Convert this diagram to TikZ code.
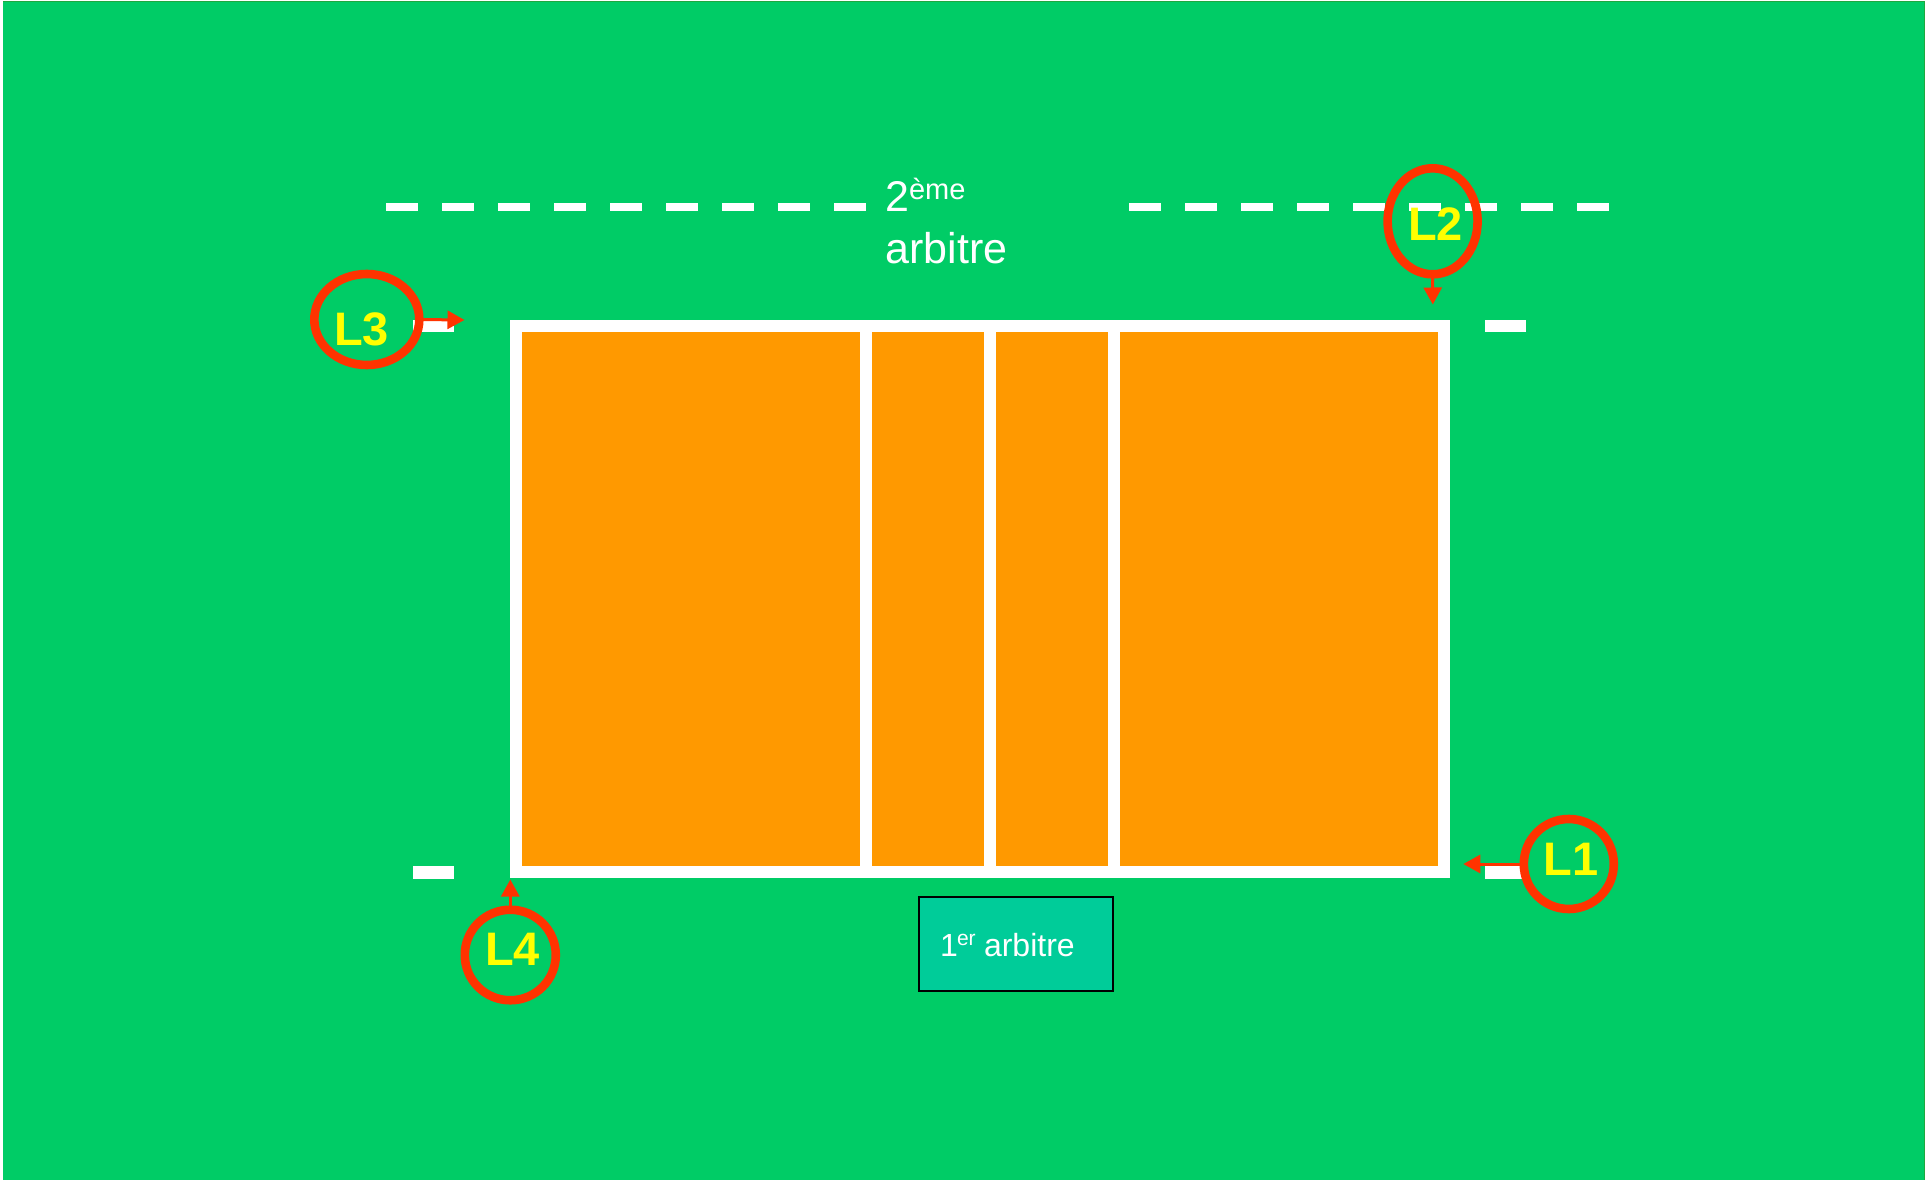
\documentclass[tikz,border=0pt]{standalone}
\usepackage{fontspec}
\setmainfont{Liberation Sans}
\usetikzlibrary{arrows.meta,shapes.geometric}
\definecolor{fieldgreen}{HTML}{00CC66}
\definecolor{edgegreen}{HTML}{1FA83F}
\definecolor{courtorange}{HTML}{FF9900}
\definecolor{refred}{HTML}{FF3300}
\definecolor{boxteal}{HTML}{00CC99}
\definecolor{labelyellow}{HTML}{FFFF00}
\tikzset{
  x=1pt,y=-1pt,
  linejudge/.style={ellipse,draw=refred,line width=8.6pt,inner sep=0pt,outer sep=0pt,minimum width=#1},
  judgearrow/.style={draw=refred,line width=3pt,-{Triangle[length=17pt,width=18pt,fill=refred]}},
  judgelabel/.style={anchor=base west,inner sep=0pt,outer sep=0pt,text=labelyellow,font=\fontsize{47}{47}\selectfont\bfseries},
  bigtext/.style={anchor=base west,inner sep=0pt,outer sep=0pt,text=white,font=\fontsize{43}{43}\selectfont},
  bigsup/.style={anchor=base west,inner sep=0pt,outer sep=0pt,text=white,font=\fontsize{29}{29}\selectfont},
  smalltext/.style={anchor=base west,inner sep=0pt,outer sep=0pt,text=white,font=\fontsize{32}{32}\selectfont},
  smallsup/.style={anchor=base west,inner sep=0pt,outer sep=0pt,text=white,font=\fontsize{21}{21}\selectfont},
  courtline/.style={fill=white},
  panel/.style={fill=courtorange}
}
\begin{document}
\begin{tikzpicture}
\useasboundingbox (0,0) rectangle (1925,1180);
\fill[white] (0,0) rectangle (1925,1180);
\fill[fieldgreen] (3,1) rectangle (1924,1180);
\fill[edgegreen] (3,1) rectangle (1925,2.2);
\fill[edgegreen] (1923.8,1) rectangle (1925,1180);
% dashed service lines
\foreach \i in {0,...,8}{
  \fill[courtline] ({385.8+56*\i},202.7) rectangle ({418.2+56*\i},211.3);
  \fill[courtline] ({1128.6+56*\i},202.7) rectangle ({1160.8+56*\i},211.3);
}
% corner marks
\fill[courtline] (413,320) rectangle (453.5,332);
\fill[courtline] (1485,320) rectangle (1526,332);
\fill[courtline] (413,866) rectangle (453.5,878.5);
\fill[courtline] (1485,866) rectangle (1526,878.5);
% court
\fill[courtline] (509.5,320) rectangle (1450,878);
\fill[panel] (521.5,332) rectangle (860,866);
\fill[panel] (872,332) rectangle (984,866);
\fill[panel] (996,332) rectangle (1108,866);
\fill[panel] (1120,332) rectangle (1438,866);
% referee box
\node[draw=black,fill=boxteal,line width=2pt,minimum width=194pt,minimum height=94pt,inner sep=0pt,anchor=north west] (ref1box) at (917.5,896) {};
% text
\node[bigtext] (two) at (885.5,211) {2};
\node[bigsup] (eme) at (909,199) {ème};
\node[bigtext] (arb2) at (885.5,263.5) {arbitre};
\node[smalltext] (one) at (940,956) {1};
\node[smallsup] (er) at (957,945) {er};
\node[smalltext] (arb1) at (984,956) {arbitre};
% coordinates for arrow tips
\coordinate (tipthree) at (464.5,320);
\coordinate (tiptwo) at (1432.8,304.5);
\coordinate (tipfour) at (510.3,879.5);
\coordinate (tipone) at (1463.3,864);
% judges
\node[linejudge=105pt,minimum height=91pt] (L3) at (366.8,319.5) {};
\node[linejudge=90pt,minimum height=106pt] (L2) at (1432.6,221.3) {};
\node[linejudge=91pt,minimum height=90.5pt] (L4) at (510.3,955) {};
\node[linejudge=90pt,minimum height=90pt] (L1) at (1568.8,864) {};
\draw[judgearrow] (L3.east) -- (tipthree);
\draw[judgearrow] (L2.south) -- (tiptwo);
\draw[judgearrow] (L4.north) -- (tipfour);
\draw[judgearrow] (L1.west) -- (tipone);
\node[judgelabel] (textL3) at (334,345.5) {L3};
\node[judgelabel] (textL2) at (1408,240) {L2};
\node[judgelabel] (textL4) at (485,965.5) {L4};
\node[judgelabel] (textL1) at (1543.5,875) {L1};
\end{tikzpicture}
\end{document}
